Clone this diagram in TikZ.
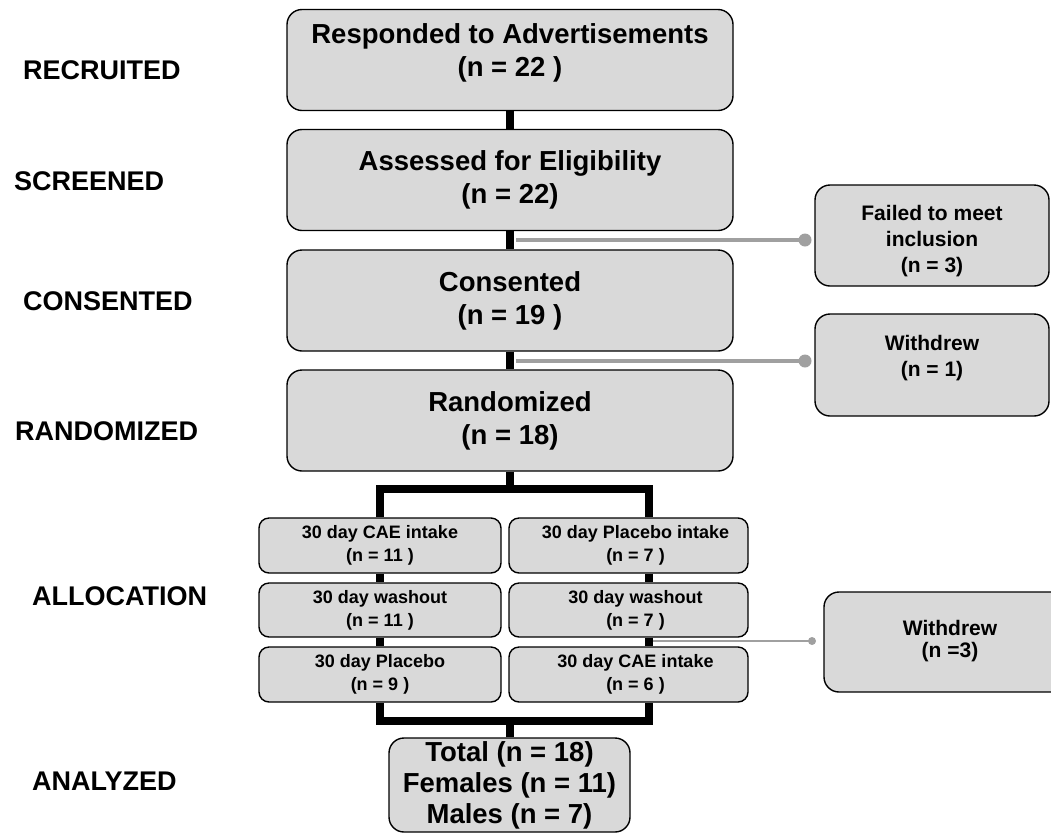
\documentclass[tikz,border=0pt]{standalone}
\usepackage{fontspec}
\setmainfont{Liberation Sans}
\usetikzlibrary{backgrounds}
\definecolor{boxgray}{HTML}{D9D9D9}
\definecolor{linegray}{HTML}{A0A0A0}
\begin{document}
\begin{tikzpicture}[x=1pt,y=-1pt,
  box/.style={draw=black,line width=1.4pt,fill=boxgray,align=center,inner sep=0pt,text=black},
  bigbox/.style={box,rounded corners=15pt,minimum width=446pt,minimum height=101pt,
    font=\fontsize{27.5}{33}\selectfont\bfseries},
  sidebox/.style={box,rounded corners=15pt},
  sidetext/.style={align=center,inner sep=0pt,font=\fontsize{21}{26}\selectfont\bfseries},
  allocbox/.style={box,rounded corners=10pt,minimum height=55pt,
    font=\fontsize{18}{23}\selectfont\bfseries},
  stage/.style={anchor=west,inner sep=0pt,font=\fontsize{27}{33}\selectfont\bfseries},
  flow/.style={line width=8pt,black},
  grayline/.style={line width=4pt,linegray},
  thingray/.style={line width=1.5pt,linegray},
  dot/.style={circle,fill=linegray,inner sep=0pt}
]
\clip (0,0) rectangle (1051,836);

% stage labels
\node[stage] (lrec) at (23,70) {RECRUITED};
\node[stage] (lscr) at (14,181) {SCREENED};
\node[stage] (lcon) at (23,301) {CONSENTED};
\node[stage] (lran) at (15,431) {RANDOMIZED};
\node[stage] (lall) at (32,596) {ALLOCATION};
\node[stage] (lana) at (32,781) {ANALYZED};

% main boxes
\node[bigbox] (rec) at (510,60) {};
\node[align=center,inner sep=0pt,font=\fontsize{27.5}{33}\selectfont\bfseries] (rectext) at (510,53) {Responded to Advertisements\\(n = 22 )};
\node[bigbox] (scr) at (510,180) {Assessed for Eligibility\\(n = 22)};
\node[bigbox] (con) at (510,300.5) {Consented\\(n = 19 )};
\node[bigbox] (ran) at (510,420.5) {Randomized\\(n = 18)};

% side boxes
\node[sidebox,minimum width=234pt,minimum height=101pt] (fail) at (932,235.5) {};
\node[sidetext] (failtext) at (932,241) {Failed to meet\\inclusion\\(n = 3)};
\node[sidebox,minimum width=234pt,minimum height=102pt] (wd1) at (932,365) {};
\node[sidetext] (wd1text) at (932,358) {Withdrew\\(n = 1)};
\node[sidebox,minimum width=252pt,minimum height=100pt] (wd3) at (950,642) {};
\node[sidetext,font=\fontsize{21}{21.5}\selectfont\bfseries] (wd3text) at (950,641) {Withdrew\\(n =3)};

% allocation boxes
\node[allocbox,minimum width=242pt] (a1) at (380,545.5) {30 day CAE intake\\(n = 11 )};
\node[allocbox,minimum width=242pt,minimum height=54pt] (a2) at (380,610) {30 day washout\\(n = 11 )};
\node[allocbox,minimum width=242pt] (a3) at (380,674.5) {30 day Placebo\\(n = 9 )};
\node[allocbox,minimum width=239pt] (b1) at (628.5,545.5) {\hspace*{14pt}30 day Placebo intake\\\hspace*{14pt}(n = 7 )};
\node[allocbox,minimum width=239pt,minimum height=54pt] (b2) at (628.5,610) {\hspace*{14pt}30 day washout\\\hspace*{14pt}(n = 7 )};
\node[allocbox,minimum width=239pt] (b3) at (628.5,674.5) {\hspace*{14pt}30 day CAE intake\\\hspace*{14pt}(n = 6 )};

% total box
\node[box,rounded corners=15pt,minimum width=241pt,minimum height=94pt,
  font=\fontsize{27.5}{31}\selectfont\bfseries] (tot) at (509.5,785) {Total (n = 18)\\Females (n = 11)\\Males (n = 7)};

% dots
\node[dot,minimum size=13pt] (d1) at (805,240) {};
\node[dot,minimum size=13pt] (d2) at (805,361) {};
\node[dot,minimum size=8pt] (d3) at (812,641) {};

\coordinate (lv) at (380,489);
\coordinate (rv) at (649,489);
\coordinate (cv) at (510,489);
\coordinate (lb) at (380,721);
\coordinate (rb) at (649,721);
\coordinate (j1) at (516,240);
\coordinate (j2) at (516,361);
\coordinate (j3) at (653,641);

\begin{scope}[on background layer]
  \draw[flow] (rec.south) -- (scr.north);
  \draw[flow] (scr.south) -- (con.north);
  \draw[flow] (con.south) -- (ran.north);
  \draw[flow] (ran.south) -- (cv);
  \draw[flow] (lv |- a1.north) -- (lv) -- (rv) -- (rv |- b1.north);
  \draw[flow] (lv |- a1.south) -- (lv |- a2.north);
  \draw[flow] (lv |- a2.south) -- (lv |- a3.north);
  \draw[flow] (rv |- b1.south) -- (rv |- b2.north);
  \draw[flow] (rv |- b2.south) -- (rv |- b3.north);
  \draw[flow] (lv |- a3.south) -- (lb) -- (rb) -- (rv |- b3.south);
  \draw[flow] (tot.north) -- (tot.north |- lb);
\end{scope}

\draw[grayline] (j1) -- (d1.center);
\draw[grayline] (j2) -- (d2.center);
\draw[thingray] (j3) -- (d3.center);
\end{tikzpicture}
\end{document}
